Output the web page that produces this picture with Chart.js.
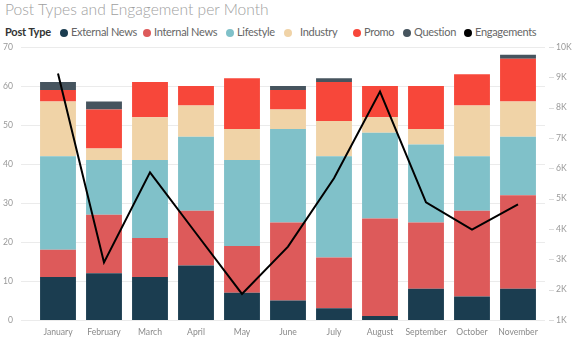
<!DOCTYPE html>
<html>
<head>
<meta charset="utf-8">
<script src="https://cdn.jsdelivr.net/npm/chart.js@4.4.0/dist/chart.umd.min.js"></script>
<style>
  body { margin: 0; background: #fff; }
  #wrap { position: relative; width: 582px; height: 351px; overflow: hidden; font-family: Lato, "Open Sans", sans-serif; }
  #title { position: absolute; left: 5px; top: 0px; font-size: 15.6px; font-weight: 300; color: #a0a0a0; white-space: nowrap; }
  .leg { position: absolute; top: 24px; font-size: 11px; letter-spacing: -0.3px; color: #666; white-space: nowrap; line-height: 16px; }
  .leg i { display: inline-block; width: 8px; height: 8px; border-radius: 50%; margin-right: 3px; vertical-align: -0.5px; }
  #ptype { color: #333; font-weight: 700; letter-spacing: -0.2px; }
  canvas { position: absolute; left: 0; top: 0; }
</style>
</head>
<body>
<div id="wrap">
  <div id="title">Post Types and Engagement per Month</div>
  <div id="legend"></div>
  <canvas id="chart" width="582" height="351"></canvas>
</div>
<script>
// Data
const months = ['January', 'February', 'March', 'April', 'May', 'June', 'July', 'August', 'September', 'October', 'November'];
const externalNews = [11, 12, 11, 14, 7, 5, 3, 1, 8, 6, 8];
const internalNews = [7, 15, 10, 14, 12, 20, 13, 25, 17, 22, 24];
const lifestyle = [24, 14, 20, 19, 22, 24, 26, 22, 20, 14, 15];
const industry = [14, 3, 11, 8, 8, 5, 9, 4, 4, 13, 9];
const promo = [3, 10, 9, 5, 13, 5, 10, 8, 11, 8, 11];
const question = [2, 2, 0, 0, 0, 1, 1, 0, 0, 0, 1];
const engagements = [9130, 2900, 5870, 3860, 1860, 3420, 5670, 8530, 4880, 3980, 4810];

const leftTicks = [0, 10, 20, 30, 40, 50, 60, 70];
const rightTicks = [1000, 2000, 3000, 4000, 5000, 6000, 7000, 8000, 9000, 10000];

const series = [
    { label: 'External News', data: externalNews, color: '#1b3d50' },
    { label: 'Internal News', data: internalNews, color: '#dd5a5a' },
    { label: 'Lifestyle', data: lifestyle, color: '#80c1c9' },
    { label: 'Industry', data: industry, color: '#f0d3a7' },
    { label: 'Promo', data: promo, color: '#f7473a' },
    { label: 'Question', data: question, color: '#46545e' }
];

// html legend
const legendItems = [
    { text: 'Post Type', x: 5, id: 'ptype' },
    { text: 'External News', x: 60, color: '#1b3d50' },
    { text: 'Internal News', x: 143, color: '#dd5a5a' },
    { text: 'Lifestyle', x: 226, color: '#80c1c9' },
    { text: 'Industry', x: 284, color: '#f0d3a7', gap: 8 },
    { text: 'Promo', x: 353, color: '#f7473a' },
    { text: 'Question', x: 403, color: '#46545e' },
    { text: 'Engagements', x: 464, color: '#000' }
];
const legendEl = document.getElementById('legend');
legendItems.forEach(item => {
    const d = document.createElement('div');
    d.className = 'leg';
    if (item.id) d.id = item.id;
    d.style.left = item.x + 'px';
    let dot = '';
    if (item.color) {
        dot = '<i style="background:' + item.color + (item.gap ? ';margin-right:' + item.gap + 'px' : '') + '"></i>';
    }
    d.innerHTML = dot + item.text;
    legendEl.appendChild(d);
});

// gridlines drawn a bit wider than the plot, like the original
const gridPlugin = {
    id: 'grid',
    beforeDatasetsDraw(chart) {
        const ctx = chart.ctx;
        const y = chart.scales.y;
        const y1 = chart.scales.y1;
        ctx.save();
        ctx.strokeStyle = '#ebebeb';
        ctx.lineWidth = 1;
        leftTicks.forEach(v => {
            const py = Math.round(y.getPixelForValue(v)) + 0.5;
            ctx.beginPath();
            ctx.moveTo(21, py);
            ctx.lineTo(545, py);
            ctx.stroke();
        });
        ctx.strokeStyle = '#dcdcdc';
        rightTicks.forEach(v => {
            const py = Math.round(y1.getPixelForValue(v)) + 0.5;
            ctx.beginPath();
            ctx.moveTo(549, py);
            ctx.lineTo(554, py);
            ctx.stroke();
        });
        ctx.restore();
    }
};

const datasets = series.map(s => ({
    type: 'bar',
    label: s.label,
    data: s.data,
    backgroundColor: s.color,
    borderWidth: 0,
    stack: 'posts',
    yAxisID: 'y',
    order: 2
}));
datasets.push({
    type: 'line',
    label: 'Engagements',
    data: engagements,
    borderColor: '#000',
    borderWidth: 2,
    pointRadius: 0,
    tension: 0,
    yAxisID: 'y1',
    order: 1
});

const tickFont = { family: 'Lato, "Open Sans", sans-serif', size: 8.6 };

new Chart(document.getElementById('chart'), {
    data: { labels: months, datasets: datasets },
    plugins: [gridPlugin],
    options: {
        responsive: false,
        animation: false,
        layout: { padding: { top: 47, bottom: 0, left: 0, right: 0 } },
        plugins: { legend: { display: false }, tooltip: { enabled: false } },
        datasets: { bar: { categoryPercentage: 1, barPercentage: 0.78 } },
        scales: {
            x: {
                stacked: true,
                grid: { display: false, drawTicks: false },
                border: { display: false },
                ticks: { color: '#8a8a8a', font: tickFont, padding: 7, maxRotation: 0, autoSkip: false },
                afterFit(scale) { scale.height = 31; }
            },
            y: {
                stacked: true,
                position: 'left',
                min: 0,
                max: 70,
                grid: { display: false, drawTicks: false },
                border: { display: false },
                ticks: { stepSize: 10, color: '#999', font: tickFont, padding: 22 },
                afterFit(scale) { scale.width = 35; }
            },
            y1: {
                position: 'right',
                min: 1000,
                max: 10000,
                grid: { display: false, drawTicks: false },
                border: { display: false },
                ticks: {
                    stepSize: 1000,
                    color: '#999',
                    font: tickFont,
                    padding: 15,
                    callback: v => (v / 1000) + 'K'
                },
                afterFit(scale) { scale.width = 41; }
            }
        }
    }
});
</script>
</body>
</html>
